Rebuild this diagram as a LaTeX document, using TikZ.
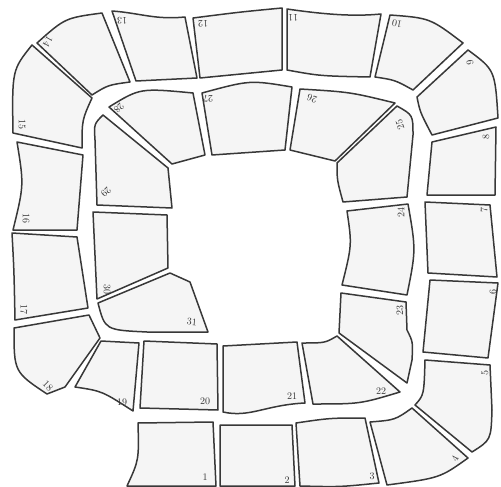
\documentclass[tikz,border=0pt]{standalone}
\usepackage{xcolor}
\usepackage{tikz}

\begin{document}
\begin{tikzpicture}[x=1pt,y=-1pt,
  tile/.style={draw=black!78,fill=black!4,line width=1.5pt,line join=round},
  num/.style={inner sep=0pt,font=\fontsize{10}{10}\selectfont,text=black!80}]
  \useasboundingbox (0,0) rectangle (501,487);
  % outer track
  \draw[tile] (138,423) -- (213,422) -- (216,486) -- (127,486) .. controls (139,460) .. (138,423) -- cycle;
  \draw[tile] (220,425) -- (292,425) -- (295,486) -- (220,486) -- cycle;
  \draw[tile] (296,423) .. controls (330,418) .. (365,418) -- (379,483) .. controls (340,487) .. (300,486) -- cycle;
  \draw[tile] (370,422) .. controls (395,420) .. (412,408) -- (468,458) .. controls (440,478) .. (387,485) -- cycle;
  \draw[tile] (425,360) -- (490,365) -- (492,410) .. controls (491,440) .. (472,452) -- (415,405) .. controls (424,395) .. (425,360) -- cycle;
  \draw[tile] (430,280) -- (498,283) -- (488,358) -- (423,352) -- cycle;
  \draw[tile] (425,202) -- (490,205) -- (497,277) -- (428,273) -- cycle;
  \draw[tile] (432,142) -- (496,127) -- (495,195) -- (427,195) -- cycle;
  \draw[tile] (468,50) .. controls (495,70) .. (498,118) -- (432,135) .. controls (420,112) .. (417,97) -- cycle;
  \draw[tile] (390,15) .. controls (430,18) .. (463,43) -- (413,90) .. controls (395,80) .. (375,77) -- cycle;
  \draw[tile] (287,9) .. controls (335,16) and (360,16) .. (381,14) -- (370,77) .. controls (320,76) .. (287,70) -- cycle;
  \draw[tile] (193,18) .. controls (240,12) .. (282,8) -- (282,70) -- (200,78) -- cycle;
  \draw[tile] (112,11) .. controls (140,13) and (155,20) .. (185,17) -- (197,78) -- (136,81) -- cycle;
  \draw[tile] (37,43) .. controls (65,18) .. (102,13) -- (130,82) .. controls (108,85) .. (92,95) -- cycle;
  \draw[tile] (32,45) .. controls (12,70) .. (13,133) -- (82,148) .. controls (82,120) .. (92,98) -- cycle;
  \draw[tile] (17,142) -- (83,155) -- (77,230) -- (13,230) .. controls (24,185) .. (17,142) -- cycle;
  \draw[tile] (12,233) -- (77,237) -- (88,308) -- (15,320) .. controls (14,270) .. (12,233) -- cycle;
  \draw[tile] (14,328) -- (89,315) -- (100,338) -- (65,387) -- (47,394) .. controls (14,372) .. (14,328) -- cycle;
  % inner track
  \draw[tile] (101,341) -- (139,343) -- (133,411) .. controls (102,391) .. (75,387) -- cycle;
  \draw[tile] (144,341) -- (217,344) -- (218,410) -- (140,408) -- cycle;
  \draw[tile] (223,346) -- (297,342) -- (305,403) .. controls (265,405) and (250,418) .. (223,412) -- cycle;
  \draw[tile] (302,343) .. controls (325,343) .. (337,336) -- (400,392) .. controls (360,404) .. (313,404) -- cycle;
  \draw[tile] (341,293) -- (406,302) -- (407,330) .. controls (413,342) .. (412,360) -- (407,383) -- (339,333) -- cycle;
  \draw[tile] (347,211) -- (408,204) .. controls (416,250) .. (407,295) -- (342,285) .. controls (352,245) .. (347,211) -- cycle;
  \draw[tile] (397,106) .. controls (413,115) .. (413,135) -- (407,197) -- (343,202) .. controls (337,180) .. (337,163) -- cycle;
  \draw[tile] (300,89) .. controls (350,92) .. (395,103) -- (335,161) -- (290,150) -- cycle;
  \draw[tile] (202,93) .. controls (250,80) .. (292,87) -- (285,150) -- (212,155) -- cycle;
  \draw[tile] (109,107) .. controls (140,88) .. (193,93) -- (205,155) -- (172,164) -- cycle;
  \draw[tile] (103,115) .. controls (94,124) .. (95,140) -- (97,205) -- (172,208) -- (168,168) -- cycle;
  \draw[tile] (93,212) -- (167,215) -- (168,268) -- (97,299) -- cycle;
  \draw[tile] (98,303) -- (170,273) -- (190,282) -- (208,332) -- (147,332) .. controls (105,330) .. (98,303) -- cycle;
  % numbers
  \node[num] (n1) at (205,477) {1};
  \node[num] (n2) at (287,480) {2};
  \node[num] (n3) at (372,476) {3};
  \node[num,rotate=60] (n4) at (455,459) {4};
  \node[num,rotate=90] (n5) at (485,373) {5};
  \node[num,rotate=90] (n6) at (493,292) {6};
  \node[num,rotate=90] (n7) at (484,210) {7};
  \node[num,rotate=90] (n8) at (486,137) {8};
  \node[num,rotate=100] (n9) at (470,63) {9};
  \node[num,rotate=170] (n10) at (397,24) {10};
  \node[num,rotate=180] (n11) at (293,18) {11};
  \node[num,rotate=180] (n12) at (203,24) {12};
  \node[num,rotate=180] (n13) at (122,21) {13};
  \node[num,rotate=-120] (n14) at (48,42) {14};
  \node[num,rotate=-90] (n15) at (22,124) {15};
  \node[num,rotate=-90] (n16) at (26,218) {16};
  \node[num,rotate=-90] (n17) at (24,309) {17};
  \node[num,rotate=-45] (n18) at (48,386) {18};
  \node[num] (n19) at (122,402) {19};
  \node[num] (n20) at (205,401) {20};
  \node[num] (n21) at (292,396) {21};
  \node[num] (n22) at (381,391) {22};
  \node[num,rotate=90] (n23) at (400,310) {23};
  \node[num,rotate=90] (n24) at (401,212) {24};
  \node[num,rotate=110] (n25) at (400,125) {25};
  \node[num,rotate=160] (n26) at (312,99) {26};
  \node[num,rotate=180] (n27) at (208,99) {27};
  \node[num,rotate=-135] (n28) at (119,108) {28};
  \node[num,rotate=-135] (n29) at (106,192) {29};
  \node[num,rotate=-90] (n30) at (107,289) {30};
  \node[num,rotate=-5] (n31) at (192,322) {31};
\end{tikzpicture}
\end{document}
